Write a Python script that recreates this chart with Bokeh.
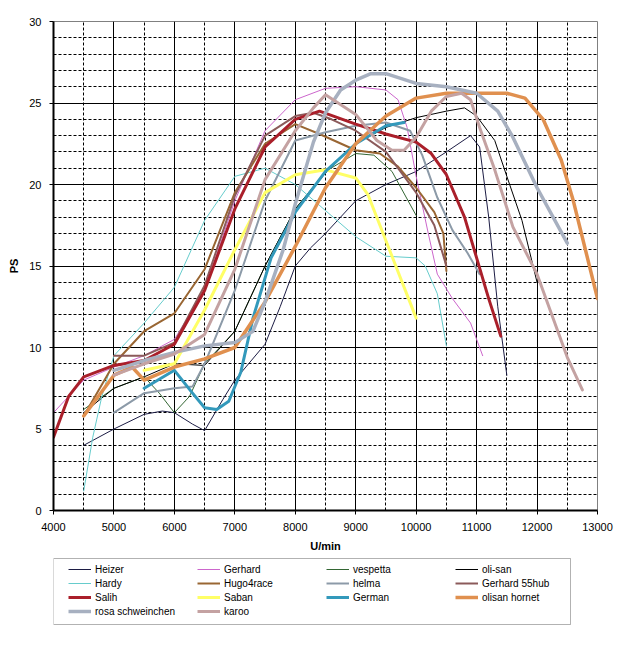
from bokeh.plotting import figure
from bokeh.models import FixedTicker, Legend, LegendItem, BoxAnnotation
from bokeh.layouts import column
from bokeh.embed import file_html
from bokeh.resources import INLINE

# ---- data (rpm, PS) ----
heizer_x = [4500, 5000, 5500, 5800, 6000, 6300, 6500, 6800, 7000, 7500, 7750, 8000, 8250, 8500, 9000, 9500, 10000, 10500, 10900, 11050, 11200, 11350, 11500]
heizer_y = [4.0, 5.0, 5.9, 6.1, 6.0, 5.3, 4.9, 6.8, 8.0, 10.2, 12.5, 15.0, 16.1, 17.0, 19.0, 20.0, 20.8, 22.0, 23.0, 22.3, 18.0, 12.5, 8.3]

gerhard_x = [4000, 4500, 5000, 5500, 6000, 6500, 7000, 7500, 8000, 8500, 9000, 9500, 9700, 9850, 10000, 10200, 10350, 10600, 10900, 11100]
gerhard_y = [6.0, 8.0, 8.8, 9.5, 10.5, 13.5, 19.0, 23.3, 25.2, 25.9, 26.0, 25.8, 25.2, 23.5, 20.5, 17.0, 14.5, 13.0, 11.5, 9.5]

vespetta_x = [4500, 5000, 5500, 5750, 6000, 6250, 6500, 7000, 7500, 8000, 8500, 9000, 9300, 9600, 10000]
vespetta_y = [6.2, 7.5, 8.2, 7.2, 6.0, 7.0, 9.0, 11.0, 15.0, 18.5, 20.8, 21.9, 21.8, 20.8, 18.1]

olisan_x = [4500, 5000, 5500, 6000, 6500, 7000, 7500, 8000, 8500, 9000, 9500, 10000, 10500, 10800, 11000, 11300, 11500, 11750, 12000]
olisan_y = [6.0, 7.5, 8.2, 9.0, 8.9, 11.0, 15.0, 18.5, 20.7, 22.5, 23.5, 24.1, 24.5, 24.7, 24.2, 22.7, 20.5, 17.8, 14.0]

hardy_x = [4500, 4650, 4800, 5000, 5500, 6000, 6500, 7000, 7500, 8000, 8500, 9000, 9500, 10000, 10150, 10350, 10500]
hardy_y = [1.2, 4.5, 7.0, 9.5, 11.5, 13.7, 17.8, 20.5, 21.0, 20.0, 18.4, 16.8, 15.6, 15.5, 15.0, 13.3, 10.1]

hugo_x = [4500, 5000, 5500, 6000, 6500, 7000, 7500, 8000, 8400, 9000, 9400, 9700, 10000, 10300, 10450, 10500]
hugo_y = [5.8, 9.0, 11.0, 12.1, 14.8, 19.5, 22.5, 23.7, 23.1, 22.1, 21.9, 21.1, 19.8, 18.3, 17.0, 14.7]

helma_x = [5000, 5500, 6000, 6300, 6500, 7000, 7500, 8000, 8500, 9000, 9500, 9900, 10100, 10350, 10600, 10850, 11050]
helma_y = [6.0, 7.2, 7.5, 7.6, 9.0, 13.5, 19.0, 22.7, 23.2, 23.6, 23.8, 23.3, 21.8, 19.2, 17.2, 15.8, 14.5]

gerhard55_x = [5000, 5500, 6000, 6500, 7000, 7500, 8000, 8300, 8600, 9000, 9500, 10000, 10300, 10500]
gerhard55_y = [9.5, 9.5, 10.3, 13.8, 19.3, 23.0, 24.2, 24.4, 24.0, 23.3, 22.0, 19.5, 17.5, 15.0]

salih_x = [4000, 4250, 4500, 5000, 5500, 6000, 6500, 7000, 7500, 8000, 8400, 9000, 9500, 10000, 10250, 10500, 10800, 11000, 11200, 11400]
salih_y = [4.5, 7.0, 8.2, 8.9, 9.2, 10.2, 13.5, 18.5, 22.3, 24.0, 24.5, 23.7, 23.1, 22.6, 21.9, 20.6, 18.0, 15.5, 13.0, 10.7]

saban_x = [5500, 6000, 6500, 7000, 7500, 8000, 8500, 9000, 9200, 9400, 9600, 10000]
saban_y = [8.6, 9.0, 12.3, 16.0, 19.5, 20.6, 20.9, 20.4, 19.4, 17.5, 15.6, 11.8]

german_x = [5500, 6000, 6300, 6500, 6700, 6900, 7100, 7300, 7600, 8000, 8500, 9000, 9500, 9800]
german_y = [7.5, 8.6, 7.2, 6.3, 6.2, 6.7, 8.5, 11.8, 15.5, 18.3, 20.8, 22.5, 23.6, 23.8]

hornet_x = [4500, 5000, 5300, 5500, 6000, 6500, 7000, 7500, 8000, 8500, 9000, 9500, 10000, 10500, 11000, 11500, 11800, 12100, 12400, 12600, 13000]
hornet_y = [5.8, 8.3, 8.8, 8.0, 8.8, 9.3, 10.0, 12.8, 16.2, 19.8, 22.5, 24.2, 25.3, 25.6, 25.6, 25.6, 25.3, 24.0, 21.5, 19.0, 13.0]

rosa_x = [5000, 5500, 6000, 6500, 7000, 7300, 7500, 7800, 8000, 8300, 8500, 8750, 9000, 9250, 9500, 10000, 10500, 11000, 11350, 11600, 12000, 12500]
rosa_y = [8.6, 9.2, 9.7, 10.1, 10.3, 11.0, 12.8, 16.0, 18.8, 22.6, 24.4, 25.8, 26.4, 26.8, 26.8, 26.2, 26.0, 25.6, 24.5, 22.9, 19.8, 16.4]

karoo_x = [5000, 5500, 6000, 6500, 7000, 7500, 8000, 8300, 8500, 9000, 9350, 9600, 9800, 10000, 10250, 10500, 10750, 10900, 11050, 11300, 11600, 12000, 12500, 12750]
karoo_y = [8.3, 9.0, 9.6, 10.8, 14.8, 20.3, 23.3, 24.7, 25.5, 24.3, 22.7, 22.1, 22.1, 22.9, 24.5, 25.4, 25.6, 25.2, 23.5, 20.9, 17.4, 14.5, 9.4, 7.4]

names = ["Heizer", "Gerhard", "vespetta", "oli-san", "Hardy", "Hugo4race", "helma",
         "Gerhard 55hub", "Salih", "Saban", "German", "olisan hornet", "rosa schweinchen", "karoo"]
xs = [heizer_x, gerhard_x, vespetta_x, olisan_x, hardy_x, hugo_x, helma_x,
      gerhard55_x, salih_x, saban_x, german_x, hornet_x, rosa_x, karoo_x]
ys = [heizer_y, gerhard_y, vespetta_y, olisan_y, hardy_y, hugo_y, helma_y,
      gerhard55_y, salih_y, saban_y, german_y, hornet_y, rosa_y, karoo_y]
colors = ["#1c1c44", "#cc66cc", "#336633", "#000000", "#66cccc", "#996633", "#8c9aa8",
          "#8b5a5a", "#aa1f2a", "#ffff66", "#3399bb", "#e0904f", "#a7b0c0", "#c4a2a2"]
widths = [1, 1, 1, 1, 1, 2, 2, 2, 3, 3, 3, 3.5, 3.5, 3]

x_ticks = [4000, 5000, 6000, 7000, 8000, 9000, 10000, 11000, 12000, 13000]
y_ticks = [0, 5, 10, 15, 20, 25, 30]

FONT = "Liberation Sans"

p = figure(width=620, height=554, x_range=(4000, 13000), y_range=(0, 30),
           output_backend="svg", toolbar_location=None,
           min_border_left=53, min_border_right=23, min_border_top=21, min_border_bottom=44)
p.background_fill_color = "white"
p.outline_line_color = "#808080"
p.outline_line_width = 1

# grids
p.xgrid.ticker = FixedTicker(ticks=[5000, 6000, 7000, 8000, 9000, 10000, 11000, 12000],
                             minor_ticks=[4500, 5500, 6500, 7500, 8500, 9500, 10500, 11500, 12500])
p.ygrid.ticker = FixedTicker(ticks=[5, 10, 15, 20, 25],
                             minor_ticks=[v for v in range(1, 30) if v % 5 != 0])
for g in (p.xgrid, p.ygrid):
    g.grid_line_color = "black"
    g.grid_line_width = 1
    g.minor_grid_line_color = "black"
    g.minor_grid_line_width = 1
    g.minor_grid_line_dash = "3 2"

# axes
p.xaxis.ticker = FixedTicker(ticks=x_ticks)
p.yaxis.ticker = FixedTicker(ticks=y_ticks)
for ax in (p.xaxis, p.yaxis):
    ax.axis_line_color = "black"
    ax.axis_line_width = 2
    ax.major_tick_out = 4
    ax.major_tick_in = 0
    ax.minor_tick_out = 0
    ax.minor_tick_in = 0
    ax.major_tick_line_color = "black"
    ax.major_tick_line_width = 1
    ax.major_label_text_font = FONT
    ax.major_label_text_font_size = "11px"
    ax.major_label_text_color = "black"
    ax.axis_label_text_font = FONT
    ax.axis_label_text_font_size = "11px"
    ax.axis_label_text_font_style = "bold"
    ax.axis_label_text_color = "black"
p.xaxis.axis_label = "U/min"
p.yaxis.axis_label = "PS"
p.xaxis.major_label_standoff = 8
p.xaxis.axis_label_standoff = 6
p.yaxis.major_label_standoff = 8
p.yaxis.axis_label_standoff = 6

for x, y, c, w in zip(xs, ys, colors, widths):
    p.line(x, y, line_color=c, line_width=w, line_join="round", line_cap="round")

# ---- legend panel below the chart (series drawn off-range so only the legend shows) ----
leg = figure(width=620, height=76, x_range=(0, 1), y_range=(0, 1),
             output_backend="svg", toolbar_location=None,
             x_axis_type=None, y_axis_type=None,
             min_border_left=0, min_border_right=0, min_border_top=0, min_border_bottom=0)
leg.outline_line_color = None
leg.xgrid.visible = False
leg.ygrid.visible = False

items = []
for n, x, y, c, w in zip(names, xs, ys, colors, widths):
    r = leg.line(x, y, line_color=c, line_width=w, line_cap="butt")
    items.append(LegendItem(label=n, renderers=[r]))

legend = Legend(items=items, ncols=4, orientation="horizontal", location=(15, 12))
legend.label_text_font = FONT
legend.label_text_font_size = "10px"
legend.label_text_color = "black"
legend.label_height = 14
legend.label_width = 102
legend.glyph_width = 23
legend.glyph_height = 14
legend.label_standoff = 4
legend.spacing = 0
legend.padding = 2
legend.margin = 0
legend.border_line_color = None
legend.background_fill_alpha = 0
leg.add_layout(legend, "center")

box = BoxAnnotation(left=0, right=517, top=72, bottom=6,
                    left_units="screen", right_units="screen",
                    top_units="screen", bottom_units="screen",
                    fill_alpha=0, line_color="black", line_width=1)
leg.add_layout(box)

layout = column(p, leg, spacing=0)
open("out.html", "w").write(file_html(layout, INLINE))
